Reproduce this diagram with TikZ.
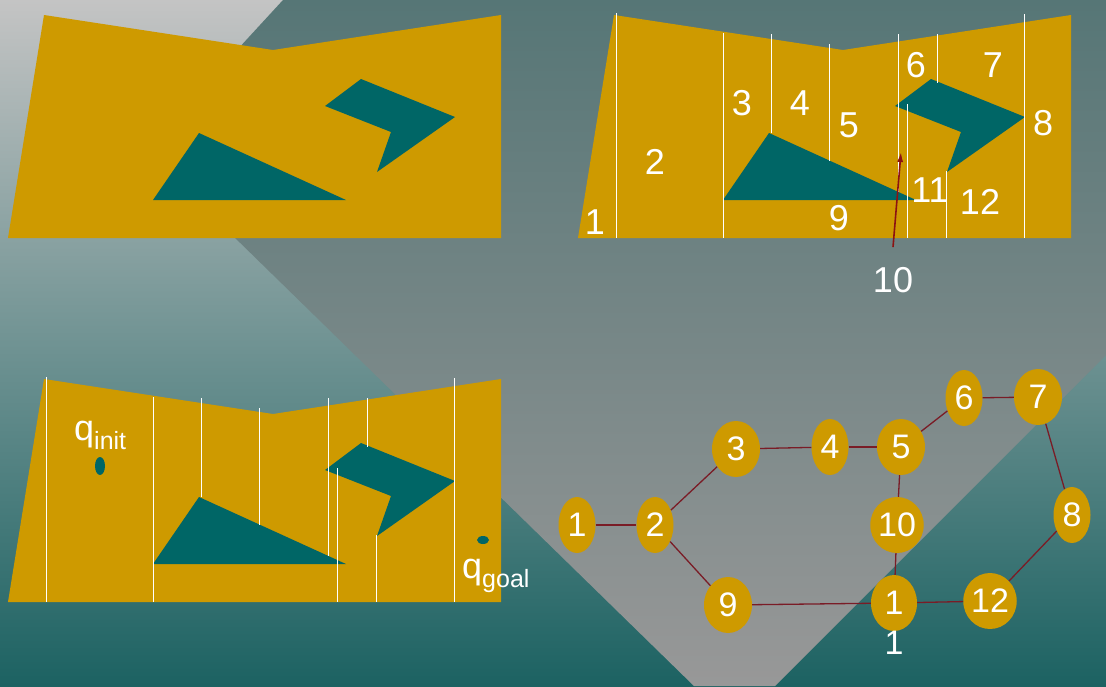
\documentclass[tikz,border=0pt]{standalone}
\usepackage{fontspec}
\setmainfont{Liberation Sans}
\usetikzlibrary{shapes.geometric,arrows.meta}
\definecolor{gold}{RGB}{206,154,0}
\definecolor{obstteal}{RGB}{0,102,102}
\definecolor{linkred}{RGB}{122,28,38}
\definecolor{ptrred}{RGB}{140,18,18}
\definecolor{bgtop}{RGB}{196,196,196}
\definecolor{bgmid}{RGB}{140,152,152}
\definecolor{bgbot}{RGB}{28,98,98}
\definecolor{ovtop}{RGB}{86,118,118}
\definecolor{ovmid}{RGB}{128,136,136}
\definecolor{ovbot}{RGB}{152,152,152}
\newcommand{\subtxt}[1]{\raisebox{-9pt}{\fontsize{25}{27}\selectfont #1}}

\begin{document}
\begin{tikzpicture}[x=1pt,y=-1pt,
  ground/.style={fill=gold},
  obst/.style={fill=obstteal},
  wall/.style={draw=white,line width=0.9pt},
  cell/.style={text=white,font=\fontsize{36}{40}\selectfont,inner sep=0pt},
  qlab/.style={text=white,font=\fontsize{36}{40}\selectfont,inner sep=0pt},
  dot/.style={ellipse,fill=obstteal,inner sep=0pt},
  vtx/.style={ellipse,fill=gold,text=white,font=\fontsize{34}{38}\selectfont,inner sep=0pt,minimum height=56pt,minimum width=37pt},
  wide/.style={minimum width=48pt},
  link/.style={draw=linkred,line width=1.3pt},
  ptr/.style={draw=ptrred,line width=1.6pt,-{Latex[length=10pt,width=6pt]}}]
\useasboundingbox (0,0) rectangle (1106,686);
\shade[top color=bgtop,middle color=bgmid,bottom color=bgbot] (0,0) rectangle (1106,686);
\shade[top color=ovtop,middle color=ovmid,bottom color=ovbot] (283,0) -- (1106,0) -- (1106,355) -- (775,686) -- (694,686) -- (145,150) -- cycle;
\foreach \dx/\dy in {0/0,570/0,0/364}{
  \begin{scope}[shift={(\dx,\dy)}]
  \fill[ground] (8,238) -- (44,15) -- (273,50) -- (501,15) -- (501,238) -- cycle;
  \fill[obst] (199,133) -- (153,200) -- (346,200) -- cycle;
  \fill[obst] (361,79) -- (455,117) -- (377,172) -- (391,132) -- (325,106) -- cycle;
  \end{scope}
}
\foreach \dx/\dy in {570/0,0/364}{
  \begin{scope}[shift={(\dx,\dy)}]
  \foreach \x/\ya/\yb in {46/13/238,153/33/238,201/34/133,259/44/161,328/34/192,337/104/238,367/34/83,376/171/238,454/14/238}
    \draw[wall] (\x,\ya) -- (\x,\yb);
  \end{scope}
}
\node[cell] (c1) at (595,222) {1};
\node[cell] (c2) at (655,162) {2};
\node[cell] (c3) at (742,103) {3};
\node[cell] (c4) at (800,103) {4};
\node[cell] (c5) at (849,125) {5};
\node[cell] (c6) at (916,65) {6};
\node[cell] (c7) at (993,65) {7};
\node[cell] (c8) at (1043,123) {8};
\node[cell] (c9) at (839,218) {9};
\node[cell] (c10) at (893,280) {10};
\node[cell] (c11) at (930,190) {11};
\node[cell] (c12) at (980,202) {12};
\coordinate (c10tip) at (901,152);
\draw[ptr] ([yshift=20pt]c10.north) -- (c10tip);
\node[dot,minimum width=10pt,minimum height=18pt] (qinit) at (100,466) {};
\node[dot,minimum width=12pt,minimum height=8pt] (qgoal) at (483,540) {};
\node[qlab,anchor=base west] (lbinit) at (74,440) {q\subtxt{init}};
\node[qlab,anchor=base west] (lbgoal) at (462,578) {q\subtxt{goal}};
\node[vtx] (v1) at (577,525) {1};
\node[vtx] (v2) at (655,525) {2};
\node[vtx,wide] (v3) at (736,449) {3};
\node[vtx] (v4) at (830,447) {4};
\node[vtx,wide] (v5) at (901,447) {5};
\node[vtx] (v6) at (964,398) {6};
\node[vtx,wide] (v7) at (1038,397) {7};
\node[vtx] (v8) at (1072,515) {8};
\node[vtx,wide] (v9) at (728,605) {9};
\node[vtx,wide] (v10) at (897,525) {10};
\node[vtx,wide,minimum width=46pt,label={[cell,font=\fontsize{34}{38}\selectfont]below:1}] (v11) at (894,603) {1};
\node[vtx,wide] (v12) at (990,601) {12};
\draw[link] (v1) -- (v2);
\draw[link] (v2) -- (v3);
\draw[link] (v2) -- (v9);
\draw[link] (v3) -- (v4);
\draw[link] (v4) -- (v5);
\draw[link] (v5) -- (v6);
\draw[link] (v6) -- (v7);
\draw[link] (v7) -- (v8);
\draw[link] (v8) -- (v12);
\draw[link] (v12) -- (v11);
\draw[link] (v11) -- (v9);
\draw[link] (v5) -- (v10);
\draw[link] (v10) -- (v11);
\end{tikzpicture}
\end{document}
